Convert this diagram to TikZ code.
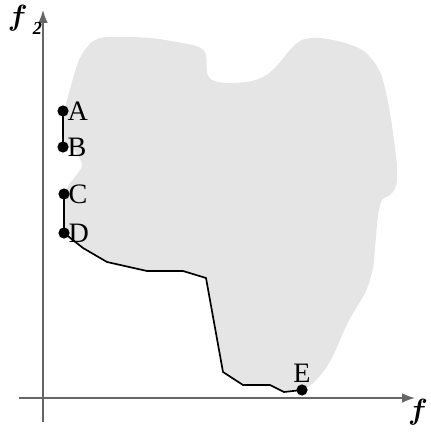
\documentclass[tikz,border=0pt]{standalone}
\usepackage{fontspec}
\usepackage{bm}
\setmainfont{Liberation Serif}
\usetikzlibrary{arrows.meta, positioning}

\begin{document}
\begin{tikzpicture}[
        x=0.025cm, y=-0.025cm,
        region/.style={fill=black!10, draw=none},
        front/.style={draw=black, line width=1.2pt, line join=round},
        axis/.style={-{Latex[length=3.2mm, width=2.4mm]}, draw=black!60, line width=1.1pt},
        dot/.style={circle, fill=black, inner sep=0pt, minimum size=2.8mm},
        lbl/.style={font=\fontsize{20}{22}\selectfont, inner sep=1pt},
        axlbl/.style={font=\fontsize{22}{24}\selectfont, inner sep=1pt}
    ]
        \useasboundingbox (0,0) rectangle (430,432);
        % feasible region
        \coordinate (A) at (63,111);
        \coordinate (B) at (63,147);
        \coordinate (C) at (64,194);
        \coordinate (D) at (64,233);
        \coordinate (E) at (302,390);
        \fill[region] (D) -- (83,248) -- (107,262) -- (147,271) -- (183,271) -- (206,278) -- (223,372) -- (243,385) -- (270,385) -- (284,392) -- (E)
            -- plot[smooth, tension=0.55] coordinates {(E) (312,384) (323,372) (333,356) (343,333) (352,315) (366,291) (373,268) (375,248) (378,216) (382,200) (390,195) (396,186) (397,167) (393,133) (388,102) (380,72) (365,52) (345,43) (320,38) (302,40) (290,50) (280,62) (268,74) (252,81) (228,83) (212,80) (207,72) (206,55) (199,47) (182,43) (150,38) (108,37) (92,42) (80,58) (72,82) (66,104) (A)}
            -- (B)
            -- plot[smooth, tension=0.5] coordinates {(B) (74,150) (82,164) (78,173) (68,186) (C)} -- cycle;
        \draw[front] (A) -- (B);
        \draw[front] (C) -- (D) -- (83,248) -- (107,262) -- (147,271) -- (183,271) -- (206,278) -- (223,372) -- (243,385) -- (270,385) -- (284,392) -- (E);
        % axes
        \coordinate (xs) at (19,398);
        \coordinate (xe) at (415,398);
        \coordinate (ys) at (43,422);
        \coordinate (ye) at (43,10);
        \draw[axis] (xs) -- (xe);
        \draw[axis] (ys) -- (ye);
        \node[axlbl] (f1) at (418,412) {$\bm{f}$};
        \node[axlbl] (f2) at (25,20) {$\bm{f}$\,\raisebox{-0.6ex}{\fontsize{13}{13}\selectfont\bfseries\itshape 2}};
        % points
        \foreach \p in {A,B,C,D,E} {
            \node[dot] at (\p) {};
        }
        \node[lbl, right=2pt of A] {A};
        \node[lbl, right=2pt of B] {B};
        \node[lbl, right=2pt of C] {C};
        \node[lbl, right=2pt of D] {D};
        \node[lbl, above=4pt of E] {E};
    \end{tikzpicture}
\end{document}
